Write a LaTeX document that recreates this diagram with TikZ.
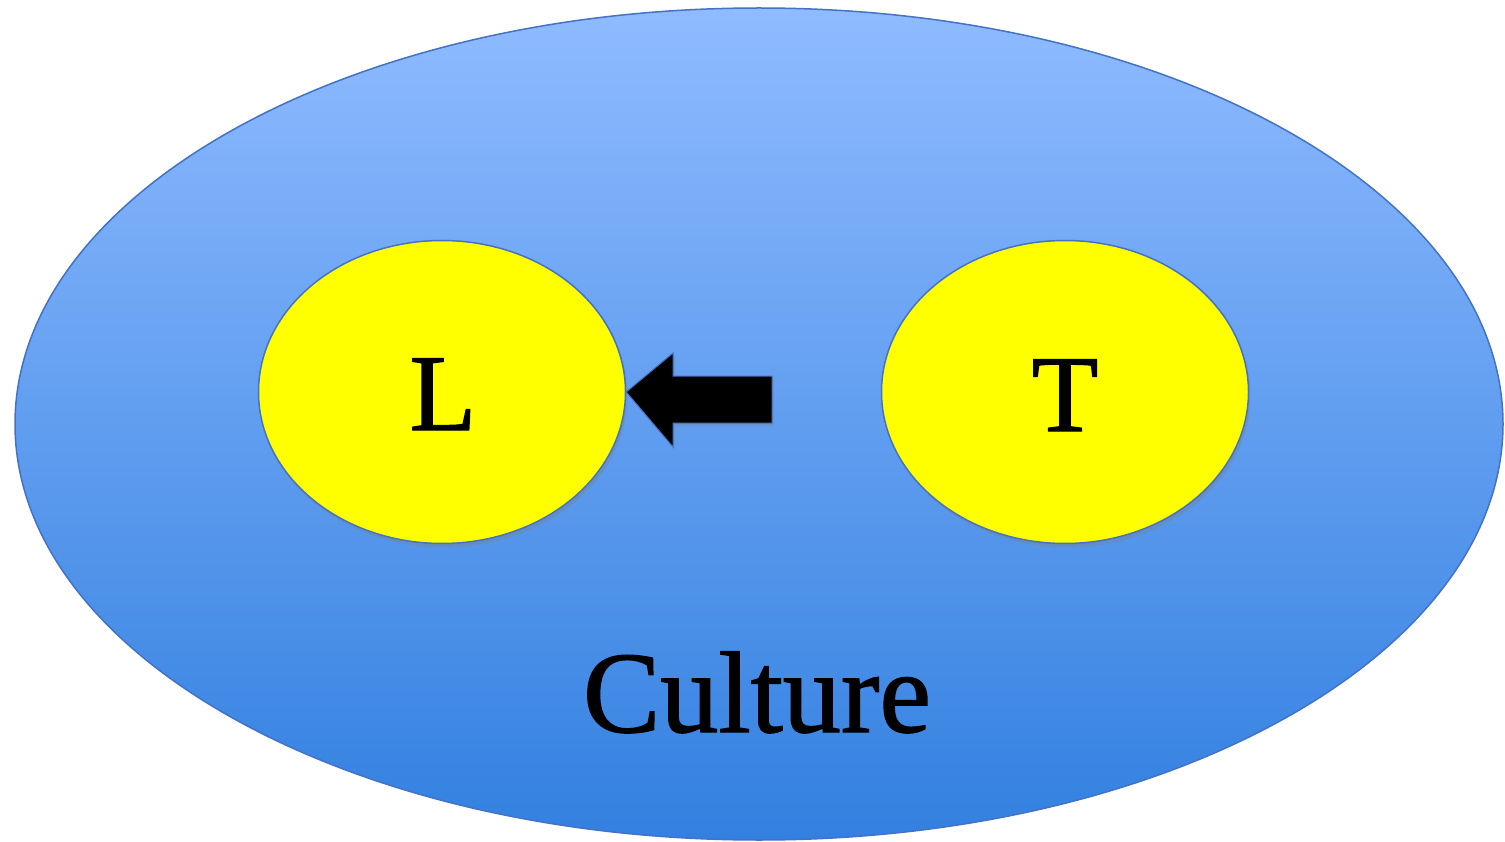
\documentclass[tikz,border=0pt]{standalone}
\usepackage{fontspec}
\setmainfont{Liberation Serif}
\newfontfamily\labelfont[FakeBold=1.2]{Liberation Serif}
\usetikzlibrary{shapes.geometric,shadows}
\definecolor{cultTop}{RGB}{143,187,255}
\definecolor{cultMid}{RGB}{122,172,248}
\definecolor{cultBottom}{RGB}{50,128,224}
\definecolor{edgeBlue}{RGB}{68,114,196}
\definecolor{lemon}{RGB}{255,255,0}

\begin{document}
\begin{tikzpicture}[x=1pt,y=-1pt,thick,
  outer node/.style={ellipse,draw=edgeBlue,line width=1.5pt,top color=cultTop,middle color=cultMid,bottom color=cultBottom,inner sep=0pt,minimum width=1488pt,minimum height=832pt},
  main node/.style={ellipse,draw=edgeBlue,line width=1.5pt,fill=lemon,inner sep=0pt,minimum width=367pt,minimum height=303pt,
    drop shadow={opacity=0.35,shadow xshift=2pt,shadow yshift=-4pt}},
  letter/.style={font=\labelfont\fontsize{109}{109}\selectfont,anchor=base},
  block arrow/.style={fill=black,draw=edgeBlue,line width=1pt,line join=miter,
    drop shadow={opacity=0.3,shadow xshift=2pt,shadow yshift=-3pt}}]
  \useasboundingbox[fill=white] (0,0) rectangle (1505,842);

  \node[outer node] (culture) at (759,424) {};
  \node[font=\labelfont\fontsize{116}{116}\selectfont,anchor=base] (name) at (757,732) {Culture};

  \node[main node] (L) at (442,392) {};
  \node[main node] (T) at (1065,392) {};
  \node[letter] (l) at (443,430) {L};
  \node[letter] (t) at (1065,431) {T};

  % arrow from T towards L
  \draw[block arrow] (772,376) -- (673,376) -- (673,353) -- (L.east) -- (673,447) -- (673,423) -- (772,423) -- cycle;
\end{tikzpicture}
\end{document}
